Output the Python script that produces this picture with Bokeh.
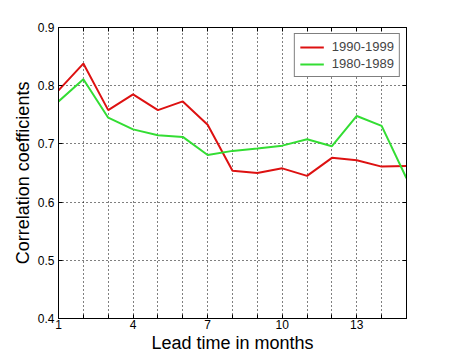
from bokeh.plotting import figure
from bokeh.models import FixedTicker, LinearAxis, Range1d, Grid, Legend, LegendItem
from bokeh.embed import file_html
from bokeh.resources import INLINE

lead = [1, 2, 3, 4, 5, 6, 7, 8, 9, 10, 11, 12, 13, 14, 15]
corr_1990s = [0.792, 0.838, 0.758, 0.785, 0.758, 0.773, 0.733, 0.654, 0.650, 0.658, 0.645, 0.676, 0.672, 0.661, 0.662]
corr_1980s = [0.773, 0.811, 0.745, 0.725, 0.715, 0.712, 0.681, 0.688, 0.692, 0.697, 0.708, 0.696, 0.748, 0.731, 0.641]
x_all = list(range(1, 16))
x_labeled = [1, 4, 7, 10, 13]
y_ticks = [0.4, 0.5, 0.6, 0.7, 0.8, 0.9]

FONT = "Liberation Sans"

p = figure(width=442, height=357, output_backend="svg", toolbar_location=None,
           x_range=Range1d(1, 15), y_range=Range1d(0.4, 0.9),
           min_border_left=58, min_border_right=36, min_border_top=27, min_border_bottom=39)
p.background_fill_color = "white"
p.border_fill_color = "white"
p.outline_line_color = "black"
p.outline_line_width = 1

p.xgrid.visible = False
p.ygrid.visible = False

x_minor = [t for t in x_all if t not in x_labeled]
p.xaxis.ticker = FixedTicker(ticks=x_labeled, minor_ticks=x_minor)
p.yaxis.ticker = FixedTicker(ticks=y_ticks)
p.yaxis.major_label_overrides = {t: f"{t:.1f}" for t in y_ticks}

for ax in [p.xaxis[0], p.yaxis[0]]:
    ax.major_tick_in = 4
    ax.major_tick_out = 0
    ax.minor_tick_in = 4
    ax.minor_tick_out = 0
    ax.axis_line_color = "black"
    ax.major_tick_line_color = "black"
    ax.minor_tick_line_color = "black"
    ax.major_label_text_font = FONT
    ax.major_label_text_font_size = "12px"
    ax.major_label_text_color = "black"
    ax.axis_label_text_font = FONT
    ax.axis_label_text_font_size = "18px"
    ax.axis_label_text_font_style = "normal"
    ax.axis_label_text_color = "black"

p.xaxis.axis_label = "Lead time in months"
p.yaxis.axis_label = "Correlation coefficients"
p.xaxis.major_label_standoff = 1
p.yaxis.major_label_standoff = 4
p.xaxis.axis_label_standoff = 1
p.yaxis.axis_label_standoff = 2

top = LinearAxis(ticker=FixedTicker(ticks=[], minor_ticks=x_all), major_tick_in=0, major_tick_out=0,
                 minor_tick_in=4, minor_tick_out=0, minor_tick_line_color="black",
                 axis_line_color="black")
right = LinearAxis(ticker=FixedTicker(ticks=[], minor_ticks=y_ticks), major_tick_in=0, major_tick_out=0,
                   minor_tick_in=4, minor_tick_out=0, minor_tick_line_color="black",
                   axis_line_color="black")
p.add_layout(top, "above")
p.add_layout(right, "right")

gx = Grid(dimension=0, ticker=FixedTicker(ticks=x_all[1:-1]), grid_line_color="black",
          grid_line_dash="1 3", grid_line_width=1)
gy = Grid(dimension=1, ticker=FixedTicker(ticks=y_ticks[1:-1]), grid_line_color="black",
          grid_line_dash="1 3", grid_line_width=1)
p.add_layout(gx)
p.add_layout(gy)

r1 = p.line(lead, corr_1990s, line_color="#dd1111", line_width=2)
r2 = p.line(lead, corr_1980s, line_color="#33dd33", line_width=2)

legend = Legend(items=[LegendItem(label="1990-1999", renderers=[r1]),
                       LegendItem(label="1980-1989", renderers=[r2])],
                location="top_right")
legend.border_line_color = "black"
legend.border_line_width = 1
legend.background_fill_color = "white"
legend.background_fill_alpha = 1
legend.label_text_font = FONT
legend.label_text_font_size = "13px"
legend.glyph_width = 24
legend.glyph_height = 12
legend.label_height = 12
legend.spacing = 2
legend.padding = 5
legend.margin = 6
legend.label_standoff = 8
p.add_layout(legend)

open("out.html", "w").write(file_html(p, INLINE))
